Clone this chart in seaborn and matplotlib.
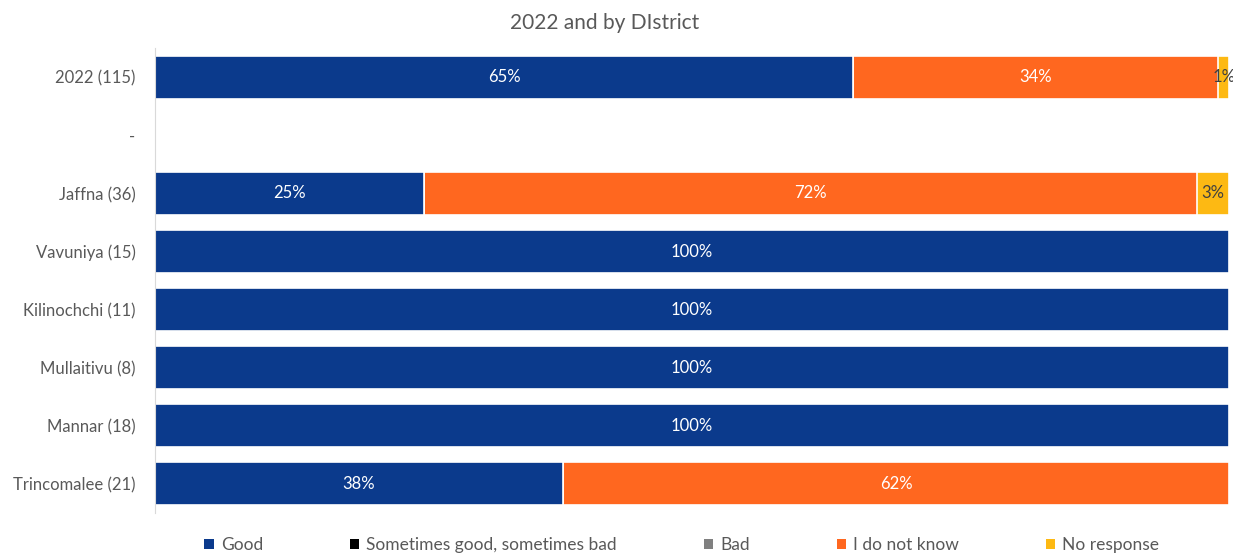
import numpy as np
import pandas as pd
import matplotlib.pyplot as plt
import seaborn as sns
from matplotlib.patches import Patch

sns.set_style("white")
plt.rcParams['font.family'] = ['Lato', 'DejaVu Sans']

# === Data (percent of respondents) ===
categories = ["2022 (115)", "-", "Jaffna (36)", "Vavuniya (15)", "Kilinochchi (11)",
              "Mullaitivu (8)", "Mannar (18)", "Trincomalee (21)"]
series = ["Good", "Sometimes good, sometimes bad", "Bad", "I do not know", "No response"]
good = [65, np.nan, 25, 100, 100, 100, 100, 38]
sometimes = [0, np.nan, 0, 0, 0, 0, 0, 0]
bad = [0, np.nan, 0, 0, 0, 0, 0, 0]
dont_know = [34, np.nan, 72, 0, 0, 0, 0, 62]
no_response = [1, np.nan, 3, 0, 0, 0, 0, 0]

colors = ["#0B3A8C", "#000000", "#808080", "#FF671F", "#FDB913"]
label_colors = ["white", "white", "white", "white", "#404040"]

df = pd.DataFrame({"District": categories, "Good": good,
                   "Sometimes good, sometimes bad": sometimes, "Bad": bad,
                   "I do not know": dont_know, "No response": no_response})
cum = df[series].cumsum(axis=1)

fig, ax = plt.subplots(figsize=(12.33, 5.53), dpi=100)
fig.subplots_adjust(left=0.1257, right=0.9968, top=0.913, bottom=0.0723)

# stacked bars: draw cumulative totals from the widest down
for i in range(len(series) - 1, -1, -1):
    d = pd.DataFrame({"District": categories, "val": cum[series[i]]})
    sns.barplot(data=d, y="District", x="val", order=categories, orient="h",
                color=colors[i], saturation=1, width=0.74, edgecolor="white",
                linewidth=1.2, ax=ax, errorbar=None)

# segment labels
for r, cat in enumerate(categories):
    for i, s in enumerate(series):
        v = df.loc[r, s]
        if pd.notna(v) and v > 0:
            xc = cum.loc[r, s] - v / 2
            ax.text(xc, r, f"{v:.0f}%", ha="center", va="center",
                    color=label_colors[i], fontsize=12)

ax.set_xlim(0, 100)
ax.set_ylim(7.5, -0.5)
ax.set_xlabel("")
ax.set_ylabel("")
ax.set_xticks([])
ax.tick_params(axis="y", length=0, labelsize=12, labelcolor="#595959", pad=14)
for sp in ["top", "right", "bottom"]:
    ax.spines[sp].set_visible(False)
ax.spines["left"].set_color("#D9D9D9")

fig.text(0.49, 0.958, "2022 and by DIstrict", ha="center", va="center",
         fontsize=15, color="#595959")

handles = [Patch(facecolor=c, edgecolor="none") for c in colors]
fig.legend(handles, series, loc="center", bbox_to_anchor=(0.553, 0.014), ncol=5,
           frameon=False, fontsize=12.5, labelcolor="#595959", handlelength=0.55,
           handleheight=0.55, handletextpad=0.4, columnspacing=5.0)

plt.savefig("out.png", dpi=100)
